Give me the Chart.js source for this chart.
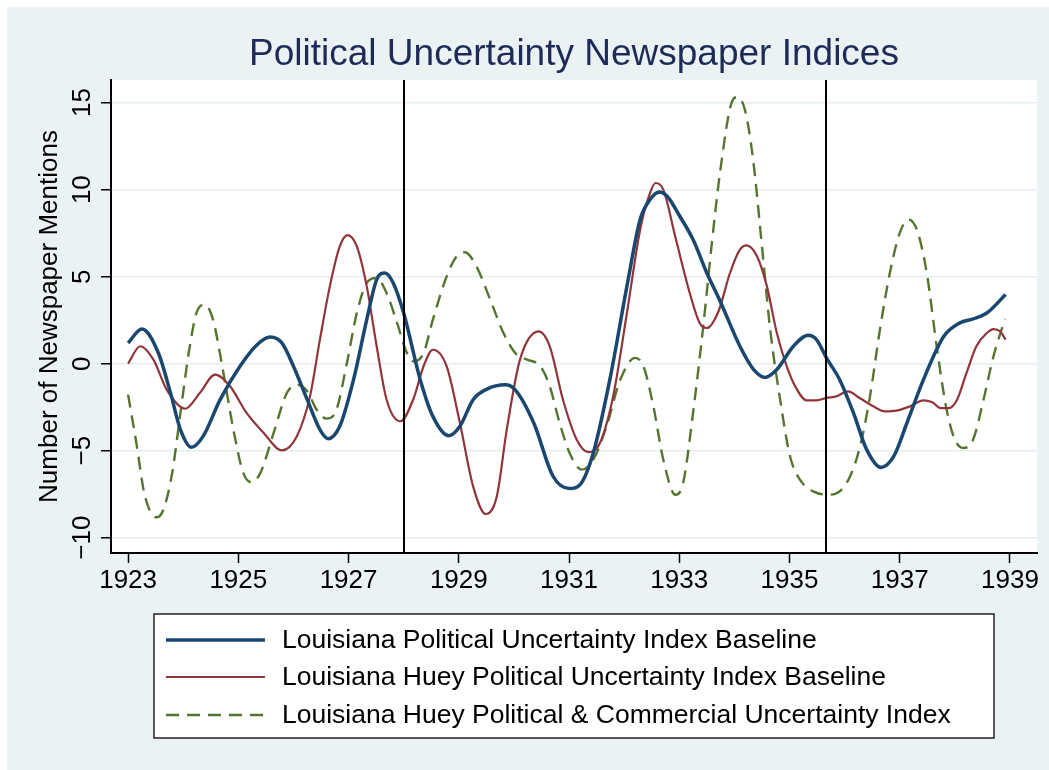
<!DOCTYPE html>
<html>
<head>
<meta charset="utf-8">
<script src="https://cdn.jsdelivr.net/npm/chart.js@4"></script>
<style>
  html, body { margin: 0; padding: 0; background: #ffffff; }
  canvas { display: block; }
</style>
</head>
<body>
<canvas id="chart" width="1049" height="770"></canvas>
<script>
// Werte
const blueYears = [1923.00, 1923.25, 1923.55, 1923.77, 1923.95, 1924.15, 1924.36, 1924.67, 1925.03, 1925.34, 1925.58, 1925.79, 1926.00, 1926.25, 1926.48, 1926.63, 1926.84, 1927.09, 1927.33, 1927.51, 1927.66, 1927.81, 1928.00, 1928.30, 1928.53, 1928.82, 1929.02, 1929.26, 1929.51, 1929.84, 1930.02, 1930.36, 1930.71, 1931.01, 1931.20, 1931.44, 1931.74, 1932.05, 1932.29, 1932.47, 1932.64, 1932.78, 1933.01, 1933.25, 1933.50, 1933.74, 1934.10, 1934.35, 1934.56, 1934.77, 1935.07, 1935.34, 1935.49, 1935.67, 1935.91, 1936.16, 1936.40, 1936.66, 1936.89, 1937.13, 1937.43, 1937.80, 1938.09, 1938.33, 1938.58, 1938.92];
const blueValues = [1.19, 1.99, 0.61, -1.69, -3.79, -4.81, -4.18, -2.07, -0.15, 1.09, 1.53, 1.19, -0.15, -2.07, -3.79, -4.31, -3.60, -0.92, 2.53, 4.83, 5.21, 4.64, 2.91, -0.92, -3.03, -4.14, -3.60, -2.07, -1.46, -1.21, -1.49, -3.41, -6.47, -7.18, -6.95, -5.13, -0.92, 4.44, 8.28, 9.43, 9.87, 9.62, 8.47, 7.13, 5.21, 3.60, 1.00, -0.34, -0.79, -0.34, 1.00, 1.63, 1.38, 0.33, -0.92, -2.83, -4.94, -5.96, -5.33, -3.41, -0.92, 1.57, 2.34, 2.57, 2.91, 3.97];

const redYears = [1923.00, 1923.22, 1923.46, 1923.70, 1924.04, 1924.30, 1924.58, 1924.85, 1925.15, 1925.46, 1925.79, 1926.06, 1926.30, 1926.48, 1926.66, 1926.84, 1926.98, 1927.15, 1927.33, 1927.51, 1927.69, 1927.94, 1928.18, 1928.36, 1928.53, 1928.78, 1929.02, 1929.26, 1929.49, 1929.69, 1929.87, 1930.11, 1930.45, 1930.65, 1930.89, 1931.14, 1931.35, 1931.56, 1931.80, 1932.05, 1932.29, 1932.47, 1932.57, 1932.71, 1932.94, 1933.19, 1933.37, 1933.50, 1933.71, 1933.92, 1934.10, 1934.22, 1934.41, 1934.59, 1934.77, 1934.95, 1935.12, 1935.31, 1935.49, 1935.67, 1935.85, 1936.06, 1936.27, 1936.52, 1936.73, 1936.94, 1937.19, 1937.43, 1937.59, 1937.74, 1937.89, 1938.04, 1938.21, 1938.39, 1938.58, 1938.70, 1938.82, 1938.92];
const redValues = [0.00, 1.00, 0.23, -1.49, -2.59, -1.69, -0.63, -1.30, -2.83, -3.98, -4.98, -4.18, -1.88, 1.38, 4.44, 6.74, 7.39, 6.74, 4.44, 1.00, -2.07, -3.31, -2.00, -0.15, 0.80, -0.15, -3.41, -7.05, -8.64, -7.62, -3.79, 0.23, 1.86, 1.00, -2.07, -4.37, -5.08, -4.56, -1.88, 2.91, 7.70, 9.81, 10.38, 10.00, 7.13, 4.06, 2.34, 2.05, 3.00, 5.21, 6.55, 6.80, 6.17, 4.44, 1.76, -0.15, -1.40, -2.11, -2.11, -1.97, -1.88, -1.59, -1.97, -2.45, -2.74, -2.70, -2.45, -2.11, -2.22, -2.55, -2.55, -2.07, -0.54, 1.00, 1.76, 1.99, 1.86, 1.38];

const greenYears = [1923.00, 1923.16, 1923.28, 1923.40, 1923.52, 1923.64, 1923.80, 1923.95, 1924.10, 1924.24, 1924.39, 1924.54, 1924.73, 1924.91, 1925.09, 1925.24, 1925.40, 1925.64, 1925.88, 1926.06, 1926.25, 1926.42, 1926.60, 1926.78, 1926.97, 1927.15, 1927.33, 1927.51, 1927.69, 1927.88, 1928.06, 1928.18, 1928.36, 1928.53, 1928.78, 1928.96, 1929.11, 1929.32, 1929.57, 1929.81, 1930.05, 1930.24, 1930.48, 1930.65, 1930.83, 1931.01, 1931.23, 1931.44, 1931.68, 1931.93, 1932.20, 1932.35, 1932.53, 1932.71, 1932.93, 1933.07, 1933.25, 1933.44, 1933.59, 1933.74, 1933.95, 1934.05, 1934.19, 1934.34, 1934.50, 1934.65, 1934.83, 1935.01, 1935.19, 1935.43, 1935.70, 1935.91, 1936.10, 1936.28, 1936.46, 1936.64, 1936.82, 1937.00, 1937.16, 1937.31, 1937.49, 1937.67, 1937.85, 1938.00, 1938.15, 1938.33, 1938.52, 1938.70, 1938.91];
const greenValues = [-1.78, -4.75, -7.24, -8.49, -8.83, -8.39, -6.28, -2.83, 0.61, 2.91, 3.39, 2.53, -0.54, -3.79, -6.28, -6.82, -6.28, -3.98, -1.69, -1.21, -1.59, -2.64, -3.16, -2.64, 0.04, 2.91, 4.64, 4.92, 4.06, 2.34, 0.61, 0.13, 0.61, 2.53, 5.02, 6.17, 6.40, 5.59, 3.68, 1.76, 0.52, 0.23, -0.15, -1.30, -3.41, -5.13, -6.09, -5.52, -3.60, -0.92, 0.33, -0.15, -2.45, -5.52, -7.53, -6.86, -2.83, 2.30, 6.90, 11.00, 15.00, 15.31, 14.60, 11.72, 6.74, 1.95, -2.07, -5.33, -6.67, -7.34, -7.53, -7.34, -6.47, -4.75, -1.88, 1.95, 5.21, 7.51, 8.28, 7.70, 5.21, 1.00, -2.64, -4.37, -4.85, -4.37, -2.07, 0.42, 2.57];

const seriesLabels = [
    'Louisiana Political Uncertainty Index Baseline',
    'Louisiana Huey Political Uncertainty Index Baseline',
    'Louisiana Huey Political & Commercial Uncertainty Index'
];
const xTicks = [1923, 1925, 1927, 1929, 1931, 1933, 1935, 1937, 1939];
const yTicks = [-10, -5, 0, 5, 10, 15];
const eventLines = [1928, 1935.67];

const FONT = "'Liberation Sans', Arial, sans-serif";
const BG = '#EAF2F3';

function pairs(xs, ys) {
    return xs.map((x, i) => ({ x: x, y: ys[i] }));
}

// Hintergrund: weisser Rand, hellblaue Grafikflaeche, weisse Plotflaeche
const backgroundPlugin = {
    id: 'background',
    beforeDraw(chart) {
        const { ctx, chartArea } = chart;
        ctx.save();
        ctx.fillStyle = '#ffffff';
        ctx.fillRect(0, 0, chart.width, chart.height);
        ctx.fillStyle = BG;
        ctx.fillRect(7, 7, chart.width - 7, chart.height - 7);
        ctx.fillStyle = '#ffffff';
        ctx.fillRect(chartArea.left, chartArea.top, chartArea.right - chartArea.left, chartArea.bottom - chartArea.top);
        ctx.restore();
    }
};

// senkrechte Linien
const eventLinePlugin = {
    id: 'eventLines',
    afterDatasetsDraw(chart) {
        const { ctx, chartArea, scales } = chart;
        ctx.save();
        ctx.strokeStyle = '#000000';
        ctx.lineWidth = 2;
        eventLines.forEach(v => {
            const px = Math.round(scales.x.getPixelForValue(v));
            ctx.beginPath();
            ctx.moveTo(px, chartArea.top);
            ctx.lineTo(px, chartArea.bottom);
            ctx.stroke();
        });
        ctx.restore();
    }
};

// Titel und Legende im Stata-Stil
const titleLegendPlugin = {
    id: 'titleLegend',
    afterDraw(chart) {
        const { ctx, chartArea } = chart;
        ctx.save();
        ctx.fillStyle = '#1E2B59';
        ctx.font = '37px ' + FONT;
        ctx.textAlign = 'center';
        ctx.textBaseline = 'alphabetic';
        ctx.fillText('Political Uncertainty Newspaper Indices', (chartArea.left + chartArea.right) / 2, 65);

        // Legendenrahmen
        const box = { x: 154, y: 614, w: 840, h: 124 };
        ctx.fillStyle = '#ffffff';
        ctx.fillRect(box.x, box.y, box.w, box.h);
        ctx.strokeStyle = '#222222';
        ctx.lineWidth = 1.5;
        ctx.strokeRect(box.x, box.y, box.w, box.h);

        const rowY = [640, 677, 715];
        chart.data.datasets.forEach((ds, i) => {
            ctx.beginPath();
            ctx.strokeStyle = ds.borderColor;
            ctx.lineWidth = ds.borderWidth;
            ctx.setLineDash(ds.borderDash || []);
            ctx.moveTo(166, rowY[i]);
            ctx.lineTo(265, rowY[i]);
            ctx.stroke();
            ctx.setLineDash([]);
            ctx.fillStyle = '#000000';
            ctx.font = '26.5px ' + FONT;
            ctx.textAlign = 'left';
            ctx.textBaseline = 'middle';
            ctx.fillText(ds.label, 282, rowY[i] + 1);
        });
        ctx.restore();
    }
};

new Chart(document.getElementById('chart'), {
    type: 'line',
    data: {
        datasets: [
            {
                label: seriesLabels[0],
                data: pairs(blueYears, blueValues),
                borderColor: '#1A476F',
                borderWidth: 3.5
            },
            {
                label: seriesLabels[1],
                data: pairs(redYears, redValues),
                borderColor: '#90353B',
                borderWidth: 2.2
            },
            {
                label: seriesLabels[2],
                data: pairs(greenYears, greenValues),
                borderColor: '#55752F',
                borderWidth: 2.4,
                borderDash: [13, 8]
            }
        ]
    },
    options: {
        responsive: false,
        animation: false,
        devicePixelRatio: 1,
        layout: { padding: { left: 0, top: 80, right: 12, bottom: 157 } },
        elements: {
            point: { radius: 0 },
            line: { cubicInterpolationMode: 'monotone', fill: false }
        },
        plugins: {
            legend: { display: false },
            title: { display: false },
            tooltip: { enabled: false }
        },
        scales: {
            x: {
                type: 'linear',
                min: 1922.69,
                max: 1939.49,
                afterBuildTicks: scale => { scale.ticks = xTicks.map(v => ({ value: v })); },
                afterFit: scale => { scale.height = 60; },
                grid: { drawOnChartArea: false, drawTicks: true, tickLength: 10, tickColor: '#000000', tickWidth: 1.5 },
                border: { display: true, color: '#000000', width: 2 },
                ticks: {
                    color: '#000000',
                    font: { family: FONT, size: 26 },
                    padding: 2,
                    maxRotation: 0,
                    callback: v => String(v)
                }
            },
            y: {
                type: 'linear',
                min: -10.88,
                max: 16.30,
                afterBuildTicks: scale => { scale.ticks = yTicks.map(v => ({ value: v })); },
                afterFit: scale => { scale.width = 111; },
                grid: { drawOnChartArea: true, color: '#E4EDEF', lineWidth: 1.5, drawTicks: true, tickLength: 10, tickColor: '#000000', tickWidth: 1.5 },
                border: { display: true, color: '#000000', width: 2 },
                ticks: {
                    color: '#000000',
                    font: { family: FONT, size: 26 },
                    padding: -4,
                    minRotation: 90,
                    maxRotation: 90,
                    crossAlign: 'center',
                    callback: v => String(v).replace('-', '\u2212')
                },
                title: {
                    display: true,
                    text: 'Number of Newspaper Mentions',
                    color: '#000000',
                    font: { family: FONT, size: 26 },
                    padding: { top: 34, bottom: 0 }
                }
            }
        }
    },
    plugins: [backgroundPlugin, eventLinePlugin, titleLegendPlugin]
});
</script>
</body>
</html>
